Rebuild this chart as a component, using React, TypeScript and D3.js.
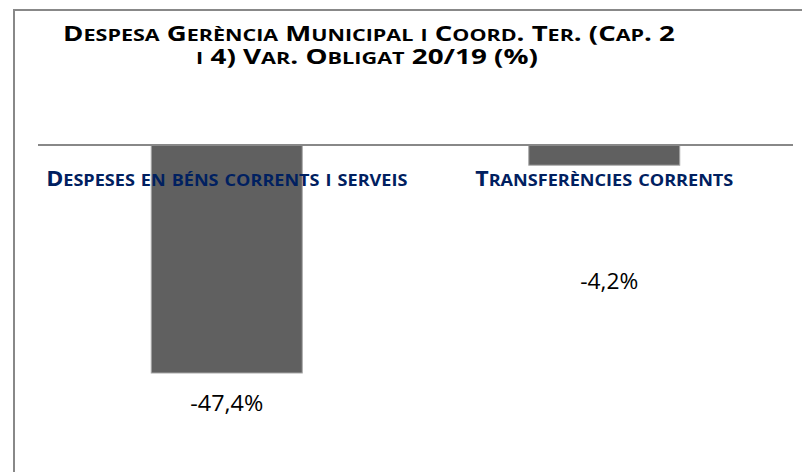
import { useLayoutEffect, useRef, useState } from 'react'
import * as d3 from 'd3'

const CATEGORIES = ['Despeses en béns corrents i serveis', 'Transferències corrents']
const VALUES = [-47.4, -4.2]
const VALUE_LABELS = ['-47,4%', '-4,2%']
const TITLE_LINES = ['Despesa Gerència Municipal i Coord. Ter. (Cap. 2', 'i 4) Var. Obligat 20/19 (%)']

const W = 802
const H = 472
const FONT = "'Open Sans', 'DejaVu Sans', sans-serif"

// measured text widths in the reference (px)
const TITLE_W = [612, 342]
const CAT_W = [361, 258]
const VAL_W = [73, 58]
// data labels were dragged by hand in the original
const VAL_DX = [0, 5]
const VAL_Y = [411, 289]

// Excel-style small caps: lowercase letters drawn as smaller capitals
function smallCaps(s: string, size: number) {
  const runs: { t: string; small: boolean }[] = []
  for (const ch of s) {
    const small = ch !== ch.toUpperCase()
    const last = runs[runs.length - 1]
    if (last && last.small === small) last.t += ch
    else runs.push({ t: ch, small })
  }
  return runs.map((r, i) => (
    <tspan key={i} fontSize={r.small ? size * 0.78 : size}>{r.small ? r.t.toUpperCase() : r.t}</tspan>
  ))
}

// squeezes a centred text horizontally to the width it has in the reference
function FitText({ x, y, width, children, ...rest }: any) {
  const ref = useRef<SVGTextElement>(null)
  const [k, setK] = useState(1)
  useLayoutEffect(() => {
    const w = ref.current ? ref.current.getComputedTextLength() : 0
    if (w > 0) setK(width / w)
  }, [width])
  return (
    <text ref={ref} transform={`translate(${x},${y}) scale(${k},1)`} textAnchor="middle" {...rest}>{children}</text>
  )
}

export default function App() {
  const x = d3.scaleBand<string>().domain(CATEGORIES).range([38, 793]).paddingInner(0.6).paddingOuter(0.3)
  const y = d3.scaleLinear().domain([0, -50]).range([145, 385.5])

  return (
    <div style={{ position: 'absolute', left: 0, top: 0, width: W, height: H, background: '#fff', overflow: 'hidden' }}>
      <svg width={W} height={H} style={{ display: 'block' }}>
        <rect x={0} y={0} width={W} height={H} fill="#fff" />
        {/* chart frame, runs off the right and bottom edges */}
        <rect x={14} y={10} width={820} height={500} fill="none" stroke="#888" strokeWidth={2} />

        {TITLE_LINES.map((t, i) => (
          <FitText key={t} x={i === 0 ? 369 : 367} y={i === 0 ? 41 : 64} width={TITLE_W[i]}
            fontFamily={FONT} fontWeight={700} fontSize={21.5} fill="#000">{smallCaps(t, 21.5)}</FitText>
        ))}

        {VALUES.map((v, i) => {
          const c = CATEGORIES[i]
          return (
            <rect key={c} x={x(c)!} y={y(0)} width={x.bandwidth()} height={y(v) - y(0)}
              fill="#606060" stroke="#a6a6a6" strokeWidth={1} />
          )
        })}

        <line x1={38} x2={793} y1={y(0)} y2={y(0)} stroke="#888" strokeWidth={2} />

        {CATEGORIES.map((c, i) => (
          <FitText key={c} x={x(c)! + x.bandwidth() / 2} y={186} width={CAT_W[i]}
            fontFamily={FONT} fontWeight={700} fontSize={21} fill="#002060">{smallCaps(c, 21)}</FitText>
        ))}

        {VALUE_LABELS.map((l, i) => {
          const c = CATEGORIES[i]
          return (
            <FitText key={l} x={x(c)! + x.bandwidth() / 2 + VAL_DX[i]} y={VAL_Y[i]} width={VAL_W[i]}
              fontFamily={FONT} fontSize={22} fill="#000">{l}</FitText>
          )
        })}
      </svg>
    </div>
  )
}
